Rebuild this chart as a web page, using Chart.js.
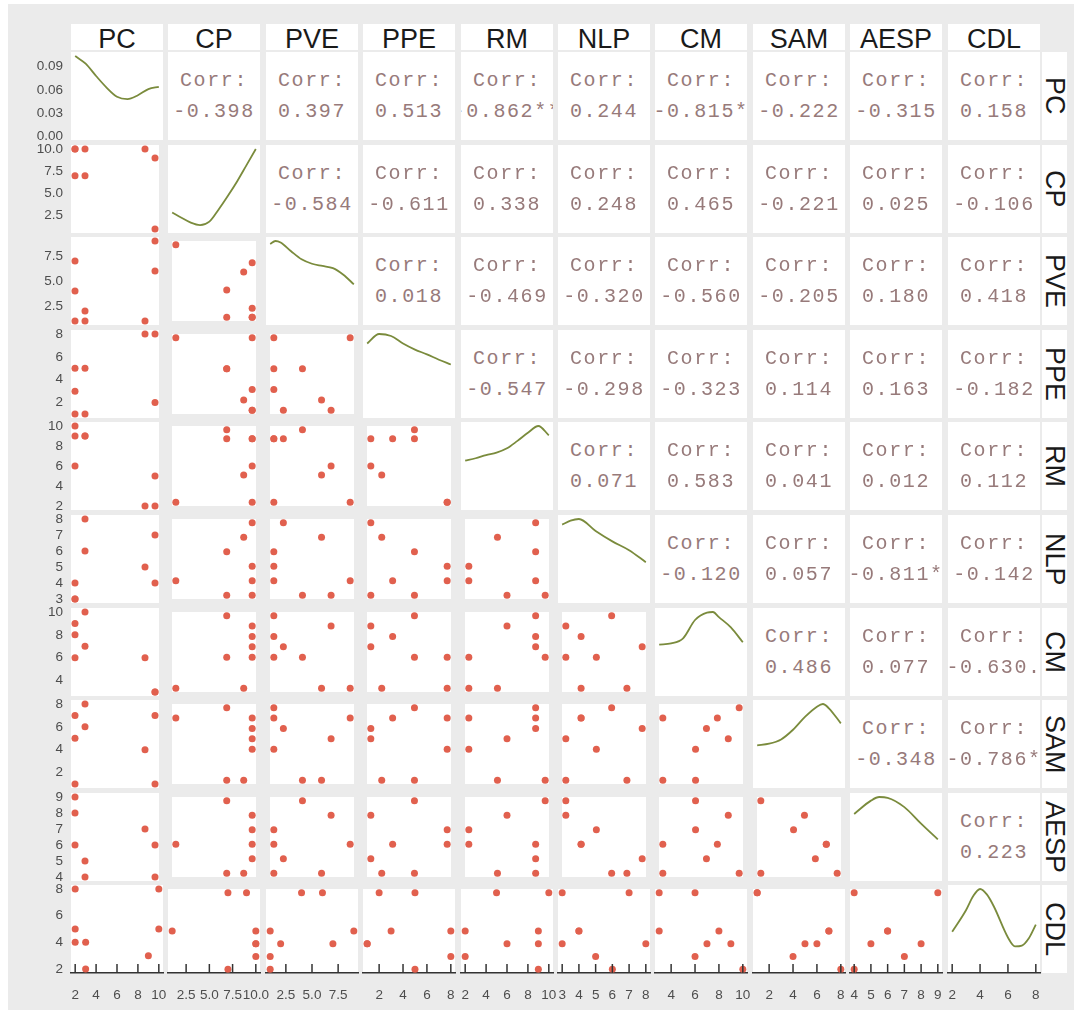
<!DOCTYPE html>
<html>
<head>
<meta charset="utf-8">
<title>ggpairs</title>
<script src="https://cdn.jsdelivr.net/npm/chart.js@4.4.1/dist/chart.umd.min.js"></script>
<style>
  body { margin: 0; background: #fff; font-family: "Liberation Sans", Arial, sans-serif; }
  #frame { position: absolute; left: 8px; top: 4px; width: 1066px; height: 1006px; background: #ebebeb; }
  .box { position: absolute; background: #fff; overflow: hidden; }
  .strip { display: flex; align-items: center; justify-content: center; font-size: 27px; color: #1a1a1a; box-sizing: border-box; }
  .strip.top { padding-top: 4px; }
  .strip.side { writing-mode: vertical-rl; }
  .corr { display: flex; flex-direction: column; justify-content: center; font-family: "Liberation Mono", monospace;
          font-size: 20px; letter-spacing: 1.6px; color: #977a7a; line-height: 31px; }
  .corr div { display: flex; justify-content: center; white-space: nowrap; }
  canvas { position: absolute; }
</style>
</head>
<body>
<div id="frame"></div>
<script>
// one value per respondent (8 rows)
const PC   = [2, 2, 2, 3, 3, 9, 10, 10];
const CP   = [10, 7, 10, 10, 7, 10, 9, 1];
const PVE  = [7, 4, 1, 2, 1, 1, 6, 9];
const PPE  = [1, 5, 3, 1, 5, 8, 2, 8];
const RM   = [6, 10, 9, 9, 9, 2, 5, 2];
const NLP  = [3, 3, 4, 8, 6, 5, 7, 4];
const CM   = [9, 6, 8, 7, 10, 6, 3, 3];
const SAM  = [5, 1, 7, 6, 8, 4, 1, 7];
const AESP = [8, 9, 6, 5, 4, 7, 4, 6];
const CDL  = [4, 8, 5, 4, 2, 3, 8, 5];

// density curves on the diagonal
const pcDensX   = [2, 3, 4, 5, 6, 7, 8, 9, 10];
const pcDensY   = [0.104, 0.094, 0.078, 0.063, 0.051, 0.048, 0.053, 0.061, 0.064];
const cpDensX   = [1, 2, 3, 4, 5, 6, 7, 8, 9, 10];
const cpDensY   = [0.034, 0.023, 0.013, 0.008, 0.015, 0.040, 0.068, 0.098, 0.131, 0.164];
const pveDensX  = [1, 1.5, 2, 3, 4, 5, 6, 7, 8, 9];
const pveDensY  = [0.105, 0.109, 0.107, 0.095, 0.084, 0.078, 0.075, 0.072, 0.063, 0.050];
const ppeDensX  = [1, 2, 3, 4, 5, 6, 7, 8];
const ppeDensY  = [0.104, 0.118, 0.115, 0.104, 0.095, 0.088, 0.080, 0.073];
const rmDensX   = [2, 3, 4, 5, 6, 7, 8, 9, 10];
const rmDensY   = [0.073, 0.077, 0.082, 0.086, 0.093, 0.105, 0.118, 0.129, 0.114];
const nlpDensX  = [3, 3.5, 4, 5, 6, 7, 8];
const nlpDensY  = [0.186, 0.196, 0.200, 0.170, 0.144, 0.122, 0.092];
const cmDensX   = [3, 4, 5, 6, 7, 7.5, 8, 9, 10];
const cmDensY   = [0.083, 0.085, 0.094, 0.126, 0.139, 0.140, 0.131, 0.113, 0.087];
const samDensX  = [1, 2, 3, 4, 5, 6, 6.5, 7, 8];
const samDensY  = [0.072, 0.075, 0.083, 0.101, 0.125, 0.144, 0.149, 0.141, 0.113];
const aespDensX = [4, 5, 5.5, 6, 7, 8, 9];
const aespDensY = [0.156, 0.189, 0.198, 0.196, 0.173, 0.132, 0.093];
const cdlDensX  = [2, 3, 3.5, 4, 4.5, 5, 6, 6.5, 7, 7.5, 8];
const cdlDensY  = [0.092, 0.146, 0.180, 0.198, 0.184, 0.154, 0.078, 0.056, 0.058, 0.076, 0.110];

// tick labels
const pcTicks   = [2, 4, 6, 8, 10];
const cpTicks   = [2.5, 5, 7.5, 10];
const pveTicks  = [2.5, 5, 7.5];
const ppeTicks  = [2, 4, 6, 8];
const rmTicks   = [2, 4, 6, 8, 10];
const nlpTicks  = [3, 4, 5, 6, 7, 8];
const cmTicks   = [4, 6, 8, 10];
const samTicks  = [2, 4, 6, 8];
const aespTicks = [4, 5, 6, 7, 8, 9];
const cdlTicks  = [2, 4, 6, 8];
const densTicks = [0, 0.03, 0.06, 0.09];

const names = ['PC', 'CP', 'PVE', 'PPE', 'RM', 'NLP', 'CM', 'SAM', 'AESP', 'CDL'];
const vars  = [PC, CP, PVE, PPE, RM, NLP, CM, SAM, AESP, CDL];
const ticks = [pcTicks, cpTicks, pveTicks, ppeTicks, rmTicks, nlpTicks, cmTicks, samTicks, aespTicks, cdlTicks];
const densX = [pcDensX, cpDensX, pveDensX, ppeDensX, rmDensX, nlpDensX, cmDensX, samDensX, aespDensX, cdlDensX];
const densY = [pcDensY, cpDensY, pveDensY, ppeDensY, rmDensY, nlpDensY, cmDensY, samDensY, aespDensY, cdlDensY];

// layout of the panel grid
const W = 92, H = 88;
const colLeft = c => Math.round(71 + 97.4 * c);
const rowTop = r => Math.round(52 + 92.6 * r);
const gutter = colLeft(0) - 8;   // left axis labels
const xAxisH = 1010 - (rowTop(9) + H);
const EXT = 12;                  // room for labels that spill over the panel edge

const pointColor = '#e1604e';
const lineColor = '#7a8b3c';
const tickFont = { family: 'Liberation Sans', size: 13.5 };

function padRange(a) {
  const lo = Math.min(...a), hi = Math.max(...a), e = (hi - lo) * 0.05;
  return [lo - e, hi + e];
}
function decimals(t) {
  if (!t.some(v => v % 1)) return 0;
  return Math.max(...t) < 1 ? 2 : 1;
}

function corr(a, b) {
  const n = a.length;
  const ma = a.reduce((s, v) => s + v, 0) / n, mb = b.reduce((s, v) => s + v, 0) / n;
  let sab = 0, saa = 0, sbb = 0;
  for (let i = 0; i < n; i++) {
    sab += (a[i] - ma) * (b[i] - mb);
    saa += (a[i] - ma) ** 2;
    sbb += (b[i] - mb) ** 2;
  }
  return sab / Math.sqrt(saa * sbb);
}
// two sided p value of the correlation test (closed form, even df)
function pval(r, n) {
  const df = n - 2, c2 = 1 - r * r;
  let s = 0, term = 1;
  for (let k = 0; k < df / 2; k++) { s += term; term *= c2 * (2 * k + 1) / (2 * k + 2); }
  return 1 - Math.abs(r) * s;
}
function stars(p) {
  if (p < 0.001) return '***';
  if (p < 0.01) return '**';
  if (p < 0.05) return '*';
  if (p < 0.1) return '.';
  return '';
}

const panelBg = {
  id: 'panelBg',
  beforeDraw(chart) {
    const a = chart.chartArea, ctx = chart.ctx;
    ctx.save();
    ctx.fillStyle = '#fff';
    ctx.fillRect(a.left, a.top, a.right - a.left, a.bottom - a.top);
    ctx.restore();
  }
};
// ticks of the bottom axis point up into the panel
const innerTicks = {
  id: 'innerTicks',
  afterDraw(chart) {
    const s = chart.scales.x, ctx = chart.ctx;
    ctx.save();
    ctx.strokeStyle = '#333';
    ctx.lineWidth = 1.5;
    s.ticks.forEach(t => {
      const px = s.getPixelForValue(t.value);
      ctx.beginPath();
      ctx.moveTo(px, s.top);
      ctx.lineTo(px, s.top - 9);
      ctx.stroke();
    });
    ctx.restore();
  }
};

function axis(range, tickVals, show, horizontal) {
  const o = { type: 'linear', min: range[0], max: range[1], display: show };
  if (!show) return o;
  const dec = decimals(tickVals);
  o.grid = { display: false, drawTicks: false };
  o.afterBuildTicks = s => { s.ticks = tickVals.map(v => ({ value: v })); };
  o.ticks = { autoSkip: false, maxRotation: 0, minRotation: 0, color: '#4d4d4d', font: tickFont,
              padding: horizontal ? 14 : 8, callback: v => Number(v).toFixed(dec) };
  if (horizontal) {
    o.border = { display: true, color: '#333', width: 1.5 };
    o.afterFit = s => { s.height = xAxisH; s.paddingLeft = 0; s.paddingRight = 0; };
  } else {
    o.border = { display: false };
    o.afterFit = s => { s.width = gutter; s.paddingTop = 0; s.paddingBottom = 0; };
  }
  return o;
}

function addBox(cls, left, top, w, h) {
  const d = document.createElement('div');
  d.className = 'box ' + cls;
  d.style.left = left + 'px';
  d.style.top = top + 'px';
  d.style.width = w + 'px';
  d.style.height = h + 'px';
  document.body.appendChild(d);
  return d;
}

function makeChart(r, c) {
  const leftAxis = c === 0, bottomAxis = r === 9;
  // extra room around panels that carry axis labels
  const pad = {
    left: bottomAxis && !leftAxis ? EXT : 0,
    right: bottomAxis ? EXT : 0,
    top: leftAxis ? EXT : 0,
    bottom: leftAxis && !bottomAxis ? EXT : 0
  };
  const cv = document.createElement('canvas');
  cv.width = (leftAxis ? gutter + W : W) + pad.left + pad.right;
  cv.height = (bottomAxis ? H + xAxisH : H) + pad.top + pad.bottom;
  cv.style.left = ((leftAxis ? 8 : colLeft(c)) - pad.left) + 'px';
  cv.style.top = (rowTop(r) - pad.top) + 'px';
  document.body.appendChild(cv);

  let dataset, yRange, yTicks;
  if (r === c) {
    const m = Math.max(...densY[c]);
    yRange = [-0.05 * m, 1.05 * m];
    yTicks = densTicks;
    dataset = {
      data: densX[c].map((x, i) => ({ x, y: densY[c][i] })),
      showLine: true, pointRadius: 0, borderColor: lineColor, borderWidth: 1.8,
      cubicInterpolationMode: 'monotone', fill: false
    };
  } else {
    yRange = padRange(vars[r]);
    yTicks = ticks[r];
    dataset = {
      data: vars[c].map((x, i) => ({ x, y: vars[r][i] })),
      pointRadius: 3.5, backgroundColor: pointColor, borderWidth: 0
    };
  }

  new Chart(cv, {
    type: 'scatter',
    data: { datasets: [dataset] },
    options: {
      responsive: false,
      animation: false,
      events: [],
      layout: { padding: pad },
      plugins: { legend: { display: false }, tooltip: { enabled: false } },
      scales: {
        x: axis(padRange(vars[c]), ticks[c], bottomAxis, true),
        y: axis(yRange, yTicks, leftAxis, false)
      }
    },
    plugins: bottomAxis ? [panelBg, innerTicks] : [panelBg]
  });
}

function makeCorr(r, c) {
  const v = corr(vars[r], vars[c]);
  const label = v.toFixed(3) + stars(pval(v, vars[r].length));
  const d = addBox('corr', colLeft(c), rowTop(r), W, H);
  const l1 = document.createElement('div');
  l1.textContent = 'Corr:';
  const l2 = document.createElement('div');
  l2.textContent = label;
  d.appendChild(l1);
  d.appendChild(l2);
}

// strips
names.forEach((n, i) => {
  addBox('strip top', colLeft(i), 24, W, 26).textContent = n;
  addBox('strip side', colLeft(9) + W + 2, rowTop(i), 25, H).textContent = n;
});

for (let r = 0; r < 10; r++) {
  for (let c = 0; c < 10; c++) {
    if (c > r) makeCorr(r, c);
    else makeChart(r, c);
  }
}
</script>
</body>
</html>
